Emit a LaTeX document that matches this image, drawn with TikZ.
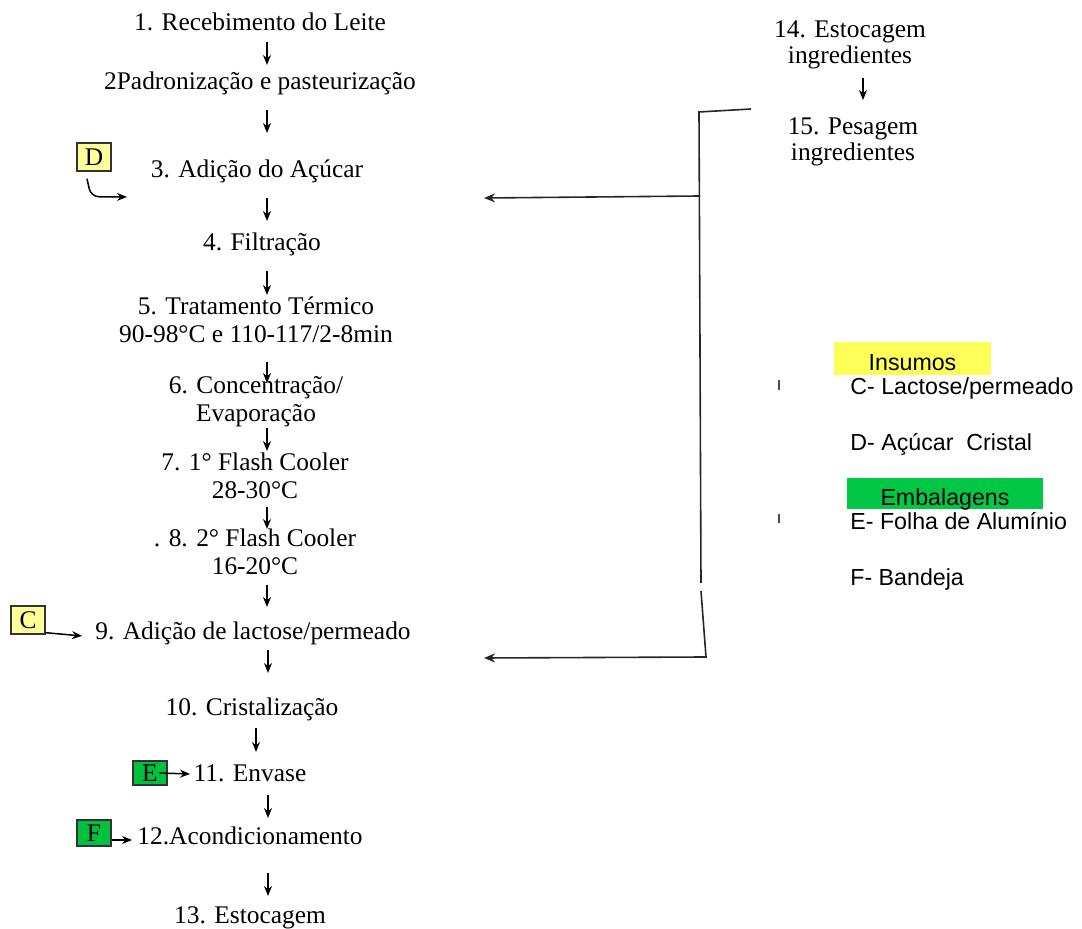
\documentclass[tikz,border=0pt]{standalone}
\usepackage{fontspec}
\setmainfont{Liberation Serif}
\newfontfamily\legendfont{Liberation Sans}
\usetikzlibrary{arrows.meta,calc}
\definecolor{paleyellow}{HTML}{FFFF99}
\definecolor{brightyellow}{HTML}{FFFF5A}
\definecolor{boxgreen}{HTML}{00C040}
\definecolor{legendgreen}{HTML}{00C845}
\begin{document}
\begin{tikzpicture}[x=0.5pt,y=-0.5pt,
  stepnode/.style={align=center, inner sep=0pt, font=\fontsize{12.7}{14}\selectfont},
  sidenode/.style={align=center, inner sep=0pt, font=\fontsize{12.7}{13}\selectfont},
  letterbox/.style={draw=black!80, line width=0.7pt, inner sep=0pt, minimum width=17pt, minimum height=13pt, font=\fontsize{12.7}{14}\selectfont},
  legtext/.style={anchor=west, inner sep=0pt, text height=8.3pt, text depth=0pt, font=\legendfont\fontsize{11.6}{13}\selectfont},
  legbox/.style={inner sep=0pt, text height=8.3pt, text depth=0pt, font=\legendfont\fontsize{11.6}{13}\selectfont},
  flow/.style={line width=0.75pt, -{Stealth[length=5pt,width=4pt]}},
  brk/.style={line width=0.8pt, black!85},
  brkarrow/.style={line width=0.8pt, black!85, -{Stealth[length=5.5pt,width=4.5pt]}},
  tick/.style={line width=0.6pt, black!70}]
\useasboundingbox (0,0) rectangle (1082,929);

% main column
\node[stepnode] (s1) at (260,25) {\strut 1. Recebimento do Leite};
\node[stepnode] (s2) at (260,84) {\strut 2Padronização e pasteurização};
\node[stepnode] (s3) at (257,172) {\strut 3. Adição do Açúcar};
\node[stepnode] (s4) at (262,245) {\strut 4. Filtração};
\node[stepnode] (s5) at (256,323) {\strut 5. Tratamento Térmico\\\strut 90-98°C e 110-117/2-8min};
\node[stepnode] (s6) at (256,402) {\strut 6. Concentração/\\\strut Evaporação};
\node[stepnode] (s7) at (255,479) {\strut 7. 1° Flash Cooler\\\strut 28-30°C};
\node[stepnode] (s8) at (255,555) {\strut . 8. 2° Flash Cooler\\\strut 16-20°C};
\node[stepnode] (s9) at (253,634) {\strut 9. Adição de lactose/permeado};
\node[stepnode] (s10) at (252,710) {\strut 10. Cristalização};
\node[stepnode] (s11) at (250,776) {\strut 11. Envase};
\node[stepnode] (s12) at (250,839) {\strut 12.Acondicionamento};
\node[stepnode] (s13) at (250,918) {\strut 13. Estocagem};

% right column
\node[sidenode] (s14) at (850,45) {\strut 14. Estocagem\\\strut ingredientes};
\node[sidenode] (s15) at (853,142) {\strut 15. Pesagem\\\strut ingredientes};

% input boxes
\node[letterbox, fill=paleyellow, minimum height=14pt] (D) at (94,157) {D};
\node[letterbox, fill=paleyellow, minimum height=14pt] (C) at (28,620) {C};
\node[letterbox, fill=boxgreen, minimum height=12pt] (E) at (150,773) {E};
\node[letterbox, fill=boxgreen] (F) at (94,833) {F};

% flow arrows
\coordinate (a1s) at (267,42);  \coordinate (a1e) at (267,65);
\coordinate (a2s) at (267,110); \coordinate (a2e) at (267,133);
\coordinate (a3s) at (267,198); \coordinate (a3e) at (267,221);
\coordinate (a4s) at (267,271); \coordinate (a4e) at (267,295);
\coordinate (a5s) at (267,362); \coordinate (a5e) at (267,383);
\coordinate (a6s) at (267,428); \coordinate (a6e) at (267,451);
\coordinate (a7s) at (267,507); \coordinate (a7e) at (267,529);
\coordinate (a8s) at (267,585); \coordinate (a8e) at (267,607);
\coordinate (a9s) at (268,650); \coordinate (a9e) at (268,673);
\coordinate (a10s) at (256,728); \coordinate (a10e) at (256,752);
\coordinate (a11s) at (268,795); \coordinate (a11e) at (268,818);
\coordinate (a12s) at (268,873); \coordinate (a12e) at (268,896);
\coordinate (a14s) at (863,78); \coordinate (a14e) at (863,100);
\foreach \i in {1,...,12,14} { \draw[flow] (a\i s) -- (a\i e); }

% side inputs
\coordinate (dtip) at (127,197);
\draw[flow, rounded corners=4pt] ($(D.south)+(-7,7)$) -- ($(D.south)+(-3,25)$) -- (dtip);
\coordinate (ctip) at (82,636);
\draw[flow] ([yshift=1pt]C.south east) -- (ctip);
\coordinate (etip) at (190,774);
\draw[flow] ([xshift=-4pt]E.east) -- (etip);
\coordinate (ftip) at (132,840);
\draw[flow] (F.east |- ftip) -- (ftip);

% bracket from ingredients
\coordinate (bt1) at (751,109);
\coordinate (bt2) at (699,112);
\coordinate (bv1) at (701,583);
\coordinate (bv2) at (701,591);
\coordinate (bb) at (706,657);
\coordinate (bm) at (700,196);
\coordinate (t3) at (484,198);
\coordinate (t9) at (484,658);
\draw[brk] (bt1) -- (bt2) -- (bv1);
\draw[brkarrow] (bv2) -- (bb) -- (t9);
\draw[brkarrow] (bm) -- (t3);

% legend
\node[legbox, fill=brightyellow, minimum width=78.5pt, minimum height=16.5pt] (ins) at (912.5,358.5) {\raisebox{-1.75pt}{Insumos}};
\node[legbox, fill=legendgreen, minimum width=98pt, minimum height=15.5pt] (emb) at (945,493.5) {\raisebox{-1.75pt}{Embalagens}};
\node[legtext] (lc) at (850,386) {C- Lactose/permeado};
\node[legtext] (ld) at (850,442) {D- Açúcar\ \ Cristal};
\node[legtext] (le) at (850,521) {E- Folha de Alumínio};
\node[legtext] (lf) at (850,577) {F- Bandeja};
\coordinate (k1a) at (779,380); \coordinate (k1b) at (779,390);
\coordinate (k2a) at (779,514); \coordinate (k2b) at (779,523);
\draw[tick] (k1a) -- (k1b);
\draw[tick] (k2a) -- (k2b);
\end{tikzpicture}
\end{document}
